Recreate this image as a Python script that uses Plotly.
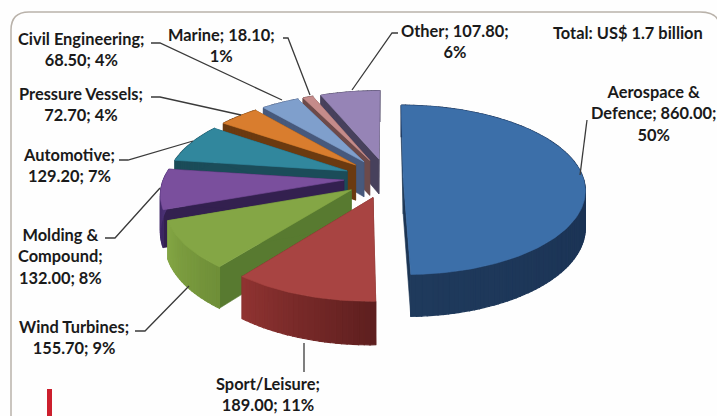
import math
import plotly.graph_objects as go

# Composite market by application, US$ million
sectors = ["Aerospace & Defence", "Sport/Leisure", "Wind Turbines", "Molding & Compound",
           "Automotive", "Pressure Vessels", "Civil Engineering", "Marine", "Other"]
values = [860.00, 189.00, 155.70, 132.00, 129.20, 72.70, 68.50, 18.10, 107.80]
percents = [50, 11, 9, 8, 7, 4, 4, 1, 6]
label_templates = [
    "Aerospace &<br>Defence; {v};<br>{p}%", "Sport/Leisure;<br>{v}; {p}%",
    "Wind Turbines;<br>{v}; {p}%", "Molding &<br>Compound;<br>{v}; {p}%",
    "Automotive;<br>{v}; {p}%", "Pressure Vessels;<br>{v}; {p}%",
    "Civil Engineering;<br>{v}; {p}%", "Marine; {v};<br>{p}%", "Other; {v};<br>{p}%",
]
explode = [0.09, 0.24, 0.24, 0.24, 0.24, 0.24, 0.24, 0.24, 0.24]

top_colors = ["#3c6fa9", "#a84442", "#84a645", "#7a4f9d", "#31879d",
              "#d97d2e", "#7f9fcc", "#c58b8a", "#9684b6"]
radial_colors = ["#1c3554", "#6e2523", "#587a30", "#33204f", "#1b4c59",
                 "#6b3a10", "#47597c", "#6d4a4a", "#47415c"]
# outer wall colour at the start and end of each sweep
wall_start = ["#15294a", "#5e1f1f", "#6f8f38", "#3a2560", "#1b4c59",
              "#6b3a10", "#47597c", "#6d4a4a", "#47415c"]
wall_end = ["#1f3a5c", "#8f3331", "#83a544", "#4e3377", "#1b4c59",
            "#6b3a10", "#47597c", "#6d4a4a", "#47415c"]

# Perspective projection of the tilted pie onto the page
CX, CY = 387, 178
RX, RY, PERSP, DEPTH = 180, 83, 0.141, 36


def project(u, v, z=0.0):
    s = 1 / (1 - PERSP * v)
    return CX + RX * u * s, CY + (RY * v + DEPTH * z) * s


def mix(a, b, t):
    ca = [int(a[i:i + 2], 16) for i in (1, 3, 5)]
    cb = [int(b[i:i + 2], 16) for i in (1, 3, 5)]
    return "#" + "".join(f"{round(x + (y - x) * t):02x}" for x, y in zip(ca, cb))


fig = go.Figure()


def poly(points, color, width=0.6):
    xs, ys = zip(*points)
    fig.add_trace(go.Scatter(x=list(xs) + [xs[0]], y=list(ys) + [ys[0]], mode="lines",
                             fill="toself", fillcolor=color,
                             line=dict(color=color, width=width),
                             hoverinfo="skip", showlegend=False))


total = sum(values)
spans = []
start = 0.0
for val in values:
    spans.append((start, start + val / total * 360))
    start += val / total * 360


def draw_sector(i):
    a0, a1 = spans[i]
    mid = math.radians((a0 + a1) / 2)
    ox, oy = explode[i] * math.sin(mid), -explode[i] * math.cos(mid)
    n = max(4, int((a1 - a0) / 1.5))
    rim = []
    for k in range(n + 1):
        t = math.radians(a0 + (a1 - a0) * k / n)
        rim.append((ox + math.sin(t), oy - math.cos(t)))
    apex = (ox, oy)
    # radial faces, far one first
    for end in (rim[0], rim[-1]):
        poly([project(*apex), project(*end), project(*end, 1), project(*apex, 1)], radial_colors[i])
    # outer wall in shaded strips
    for k in range(n):
        p, q = rim[k], rim[k + 1]
        poly([project(*p), project(*q), project(*q, 1), project(*p, 1)],
             mix(wall_start[i], wall_end[i], k / max(n - 1, 1)), width=1.2)
    # top surface
    poly([project(*apex)] + [project(*r) for r in rim], top_colors[i])


# back sectors are painted first so the nearer ones overlap them
for idx in [8, 7, 6, 5, 4, 3, 2, 1, 0]:
    draw_sector(idx)

# leader lines
leaders = [
    [(587, 120), (580, 175)],
    [(304, 343), (304, 372)],
    [(135, 331), (145, 331), (189, 286)],
    [(105, 238), (115, 238), (160, 188)],
    [(119, 160), (128, 160), (193, 141)],
    [(151, 97), (160, 97), (241, 115)],
    [(151, 43), (160, 43), (282, 100)],
    [(283, 38), (288, 38), (310, 95)],
    [(398, 33), (392, 33), (352, 90)],
]
for path in leaders:
    fig.add_trace(go.Scatter(x=[p[0] for p in path], y=[p[1] for p in path], mode="lines",
                             line=dict(color="#3a3a3a", width=1.3),
                             hoverinfo="skip", showlegend=False))

label_centres = [(653, 113), (268, 394), (74, 337), (60, 256), (69, 165),
                 (81, 104), (81, 49), (221, 45), (455, 41)]
font = dict(family="Lato", size=16.4, color="#1a1a1a")
for tpl, val, pct, (lx, ly) in zip(label_templates, values, percents, label_centres):
    fig.add_annotation(x=lx, y=ly, text="<b>" + tpl.format(v=f"{val:.2f}", p=pct) + "</b>",
                       showarrow=False, font=font, align="center", xanchor="center", yanchor="middle")
fig.add_annotation(x=628, y=32, text="<b>Total: US$ 1.7 billion</b>", showarrow=False, font=font,
                   xanchor="center", yanchor="middle")

# rounded panel border and the red accent bar
fig.add_shape(type="path", layer="below",
              path="M 11 430 L 11 30 Q 11 12 29 12 L 700 12 Q 714 12 718 20",
              line=dict(color="#b9b2aa", width=1.5))
fig.add_shape(type="rect", x0=47, x1=52, y0=389, y1=416, fillcolor="#cc1f2d", line_width=0)

fig.update_xaxes(range=[0, 717], visible=False, fixedrange=True)
fig.update_yaxes(range=[416, 0], visible=False, fixedrange=True)
fig.update_layout(width=717, height=416, margin=dict(l=0, r=0, t=0, b=0),
                  paper_bgcolor="#fefefe", plot_bgcolor="#fefefe", showlegend=False)
fig.write_html("out.html")
